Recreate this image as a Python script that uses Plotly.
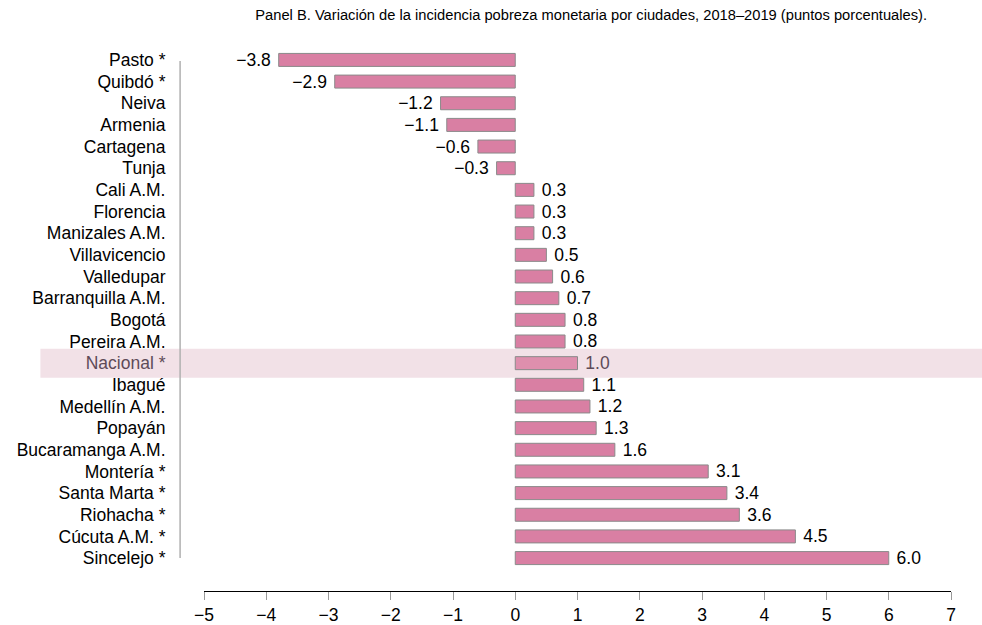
import plotly.graph_objects as go

cities = ["Pasto *", "Quibdó *", "Neiva", "Armenia", "Cartagena", "Tunja", "Cali A.M.",
          "Florencia", "Manizales A.M.", "Villavicencio", "Valledupar", "Barranquilla A.M.",
          "Bogotá", "Pereira A.M.", "Nacional *", "Ibagué", "Medellín A.M.", "Popayán",
          "Bucaramanga A.M.", "Montería *", "Santa Marta *", "Riohacha *", "Cúcuta A.M. *",
          "Sincelejo *"]
values = [-3.8, -2.9, -1.2, -1.1, -0.6, -0.3, 0.3, 0.3, 0.3, 0.5, 0.6, 0.7,
          0.8, 0.8, 1.0, 1.1, 1.2, 1.3, 1.6, 3.1, 3.4, 3.6, 4.5, 6.0]
x_ticks = [-5, -4, -3, -2, -1, 0, 1, 2, 3, 4, 5, 6, 7]
title_text = "Panel B. Variación de la incidencia pobreza monetaria por ciudades, 2018–2019 (puntos porcentuales)."
highlight = "Nacional *"

BAR = "#d97fa3"
BAR_HL = "#de8fad"
HL_TXT = "#5e4b58"
FONT = "Liberation Sans, Arial, sans-serif"
FS = 17.5

def fmt(v):
    s = f"{abs(v):.1f}"
    return ("−" + s + " ") if v < 0 else (" " + s)

idx = list(range(len(cities)))
colors = [BAR_HL if c == highlight else BAR for c in cities]
texts = [fmt(v) for v in values]
tcolors = [HL_TXT if c == highlight else "black" for c in cities]
ticktext = [f"<span style='color:{HL_TXT}'>{c}</span>" if c == highlight else c for c in cities]

fig = go.Figure()
fig.add_trace(go.Bar(
    x=values, y=idx, orientation="h", width=0.6,
    marker=dict(color=colors, line=dict(color="#8a8a8a", width=1)),
    text=texts, textposition="outside", cliponaxis=False, constraintext="none",
    textfont=dict(family=FONT, size=FS, color=tcolors),
    hoverinfo="skip",
))

hi = cities.index(highlight)
fig.add_shape(type="rect", xref="paper", yref="y", x0=-0.219, x1=1.045,
              y0=hi - 0.67, y1=hi + 0.67, fillcolor="#f2e1e7", line_width=0, layer="below")
fig.add_shape(type="line", xref="paper", yref="y", x0=-0.032, x1=-0.032,
              y0=0.05, y1=len(cities) - 1, line=dict(color="#b0b0b0", width=1.5))

fig.update_layout(
    width=982, height=625,
    margin=dict(l=204, r=31, t=40, b=34, autoexpand=False),
    paper_bgcolor="white", plot_bgcolor="white",
    showlegend=False,
    bargap=0.4,
    title=dict(text=title_text, x=0.602, xanchor="center", y=0.985, yanchor="top",
               font=dict(family=FONT, size=14.7, color="black")),
    font=dict(family=FONT, size=FS, color="black"),
    xaxis=dict(range=[-5, 7], tickvals=x_ticks, showgrid=False, zeroline=False,
               showline=True, linecolor="black", linewidth=1.2,
               ticks="outside", ticklen=8, tickcolor="#9a9a9a", tickwidth=1.2,
               side="bottom", anchor="y", fixedrange=True, automargin=False,
               tickfont=dict(size=FS, color="black")),
    yaxis=dict(range=[24.52, -0.92], tickvals=idx, ticktext=ticktext,
               showgrid=False, zeroline=False, showline=False, automargin=False,
               ticks="outside", ticklen=34, tickcolor="rgba(0,0,0,0)",
               tickfont=dict(size=FS, color="black"), fixedrange=True),
)

fig.write_html("out.html", config={"displayModeBar": False},
               post_script="document.body.style.margin='0';")
